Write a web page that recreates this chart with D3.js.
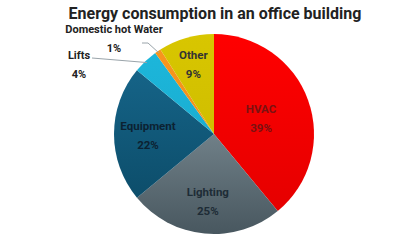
<!DOCTYPE html>
<html>
<head>
<meta charset="utf-8">
<script src="https://cdn.jsdelivr.net/npm/d3@7"></script>
<style>
  html, body { margin: 0; padding: 0; background: #fff; }
  svg text { font-family: Roboto, "Open Sans", sans-serif; font-weight: bold; }
</style>
</head>
<body>
<div id="chart"></div>
<script>
// chart data
const categories = ["HVAC", "Lighting", "Equipment", "Lifts", "Domestic hot Water", "Other"];
const shares = [39, 25, 22, 4, 1, 9];
const colorTop = ["#ff0000", "#98a9b1", "#186a90", "#1db8dc", "#f8961e", "#d8c600"];
const colorBottom = ["#e20000", "#48575f", "#0a4762", "#17a4c8", "#f08c16", "#c8b600"];
const textColors = ["#7a1212", "#1e2c36", "#0c2232", "#222", "#222", "#333"];

const width = 420, height = 240;
const cx = 214, cy = 134, radius = 100;

// inside label radius per slice (others are labelled outside)
const labelRadius = {"HVAC": 50, "Lighting": 66, "Equipment": 66, "Other": 74};

const svg = d3.select("#chart")
    .append("svg")
    .attr("width", width)
    .attr("height", height);

// vertical shading, light at the top of the pie, darker at the bottom
const defs = svg.append("defs");
colorTop.forEach((c, i) => {
    const gr = defs.append("linearGradient")
        .attr("id", "grad" + i)
        .attr("gradientUnits", "userSpaceOnUse")
        .attr("x1", 0).attr("y1", -radius)
        .attr("x2", 0).attr("y2", radius);
    gr.append("stop").attr("offset", "0%").attr("stop-color", c);
    gr.append("stop").attr("offset", "100%").attr("stop-color", colorBottom[i]);
});

svg.append("text")
    .attr("x", 215)
    .attr("y", 19)
    .attr("text-anchor", "middle")
    .attr("font-size", 16)
    .attr("fill", "#222")
    .text("Energy consumption in an office building");

const data = categories.map((c, i) => ({name: c, value: shares[i], idx: i}));

const pie = d3.pie()
    .value(d => d.value)
    .sort(null);

const arc = d3.arc()
    .innerRadius(0)
    .outerRadius(radius);

const g = svg.append("g")
    .attr("transform", `translate(${cx},${cy})`);

const arcs = pie(data);

// slices
g.selectAll("path")
    .data(arcs)
    .enter()
    .append("path")
    .attr("d", arc)
    .attr("fill", d => `url(#grad${d.data.idx})`);

// labels inside slices
arcs.filter(d => labelRadius[d.data.name]).forEach(d => {
    const r = labelRadius[d.data.name];
    const [x, y] = d3.arc().innerRadius(r).outerRadius(r).centroid(d);
    const t = g.append("text")
        .attr("text-anchor", "middle")
        .attr("font-size", 11.5)
        .attr("fill", textColors[d.data.idx]);
    t.append("tspan").attr("x", x).attr("y", y - 4).text(d.data.name);
    t.append("tspan").attr("x", x).attr("y", y + 15).text(d.data.value + "%");
});

// outside labels with leader lines
const outer = {
    "Lifts": {lx: 79, ly: 59, px: 79, py: 78, line: [[92, 58]]},
    "Domestic hot Water": {lx: 114, ly: 33, px: 114, py: 52, line: [[142, 43], [148, 43]]}
};

arcs.filter(d => outer[d.data.name]).forEach(d => {
    const o = outer[d.data.name];
    const mid = (d.startAngle + d.endAngle) / 2;
    const ex = cx + Math.sin(mid) * (radius - 2);
    const ey = cy - Math.cos(mid) * (radius - 2);
    const pts = o.line.concat([[ex, ey]]);
    svg.append("path")
        .attr("d", d3.line()(pts))
        .attr("fill", "none")
        .attr("stroke", "#9aa4aa")
        .attr("stroke-width", 1);
    svg.append("text")
        .attr("x", o.lx).attr("y", o.ly)
        .attr("text-anchor", "middle")
        .attr("font-size", 11)
        .attr("fill", "#222")
        .text(d.data.name);
    svg.append("text")
        .attr("x", o.px).attr("y", o.py)
        .attr("text-anchor", "middle")
        .attr("font-size", 11)
        .attr("fill", "#222")
        .text(d.data.value + "%");
});
</script>
</body>
</html>
